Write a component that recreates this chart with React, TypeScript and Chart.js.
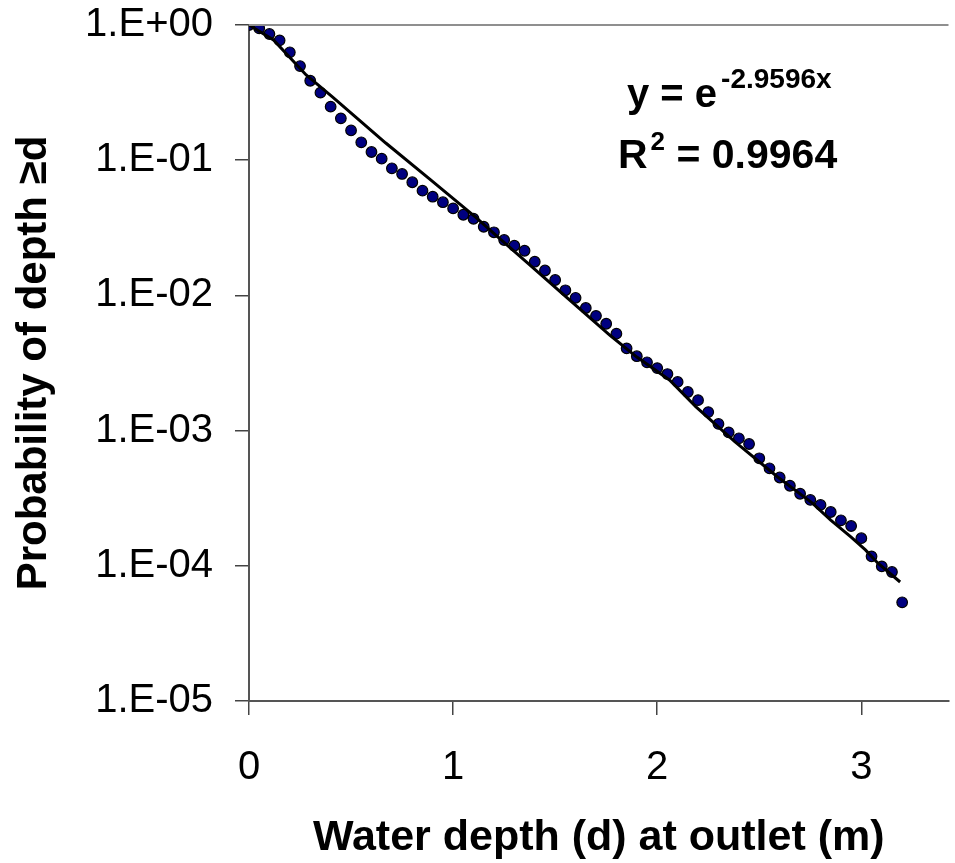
import React, { useEffect, useRef } from "react";
import { Chart, registerables } from "chart.js";

Chart.register(...registerables);

// Observed data: water depth (m) and exceedance probability
const depthX = [
  0, 0.05, 0.1, 0.15, 0.2, 0.25, 0.3, 0.35, 0.4, 0.45, 0.5, 0.55, 0.6, 0.65, 0.7,
  0.75, 0.8, 0.85, 0.9, 0.95, 1.0, 1.05, 1.1, 1.15, 1.2, 1.25, 1.3, 1.35, 1.4, 1.45,
  1.5, 1.55, 1.6, 1.65, 1.7, 1.75, 1.8, 1.85, 1.9, 1.95, 2.0, 2.05, 2.1, 2.15, 2.2,
  2.25, 2.3, 2.35, 2.4, 2.45, 2.5, 2.55, 2.6, 2.65, 2.7, 2.75, 2.8, 2.85, 2.9, 2.95,
  3.0, 3.05, 3.1, 3.15, 3.2,
];
const probability = [
  1.0, 0.945, 0.858, 0.77, 0.628, 0.497, 0.387, 0.316, 0.249, 0.204, 0.166, 0.1356,
  0.115, 0.1026, 0.0871, 0.0791, 0.0687, 0.0595, 0.0537, 0.0489, 0.044, 0.0395,
  0.0369, 0.0322, 0.0293, 0.0257, 0.0233, 0.0214, 0.01775, 0.01528, 0.013, 0.01091,
  0.0096, 0.00807, 0.00706, 0.00617, 0.00521, 0.00406, 0.00355, 0.0032, 0.0029,
  0.00262, 0.00229, 0.00193, 0.00168, 0.00137, 0.00112, 0.000971, 0.000877,
  0.000796, 0.000624, 0.000526, 0.00045, 0.000391, 0.000341, 0.000307, 0.000282,
  0.00025, 0.000217, 0.000197, 0.00016, 0.0001175, 0.0000991, 0.00009, 0.0000537,
];

// Trend line
const fitX = [
  0, 0.12, 0.28, 0.41, 0.54, 0.67, 0.89, 1.11, 1.22, 1.36, 1.57, 1.77, 1.9, 2.06,
  2.19, 2.38, 2.59, 2.76, 2.85, 2.95, 3.02, 3.08, 3.19,
];
const fitY = [
  1, 0.774, 0.427, 0.293, 0.198, 0.134, 0.0715, 0.038, 0.027, 0.01766, 0.00925,
  0.00505, 0.0035, 0.00237, 0.0015, 0.00083, 0.000454, 0.000291, 0.000218,
  0.000163, 0.000131, 0.000105, 0.0000759,
];

const xTickValues = [0, 1, 2, 3];
const xTickLabels = ["0", "1", "2", "3"];
const yTickValues = [1, 0.1, 0.01, 0.001, 0.0001, 0.00001];
const yTickLabels = ["1.E+00", "1.E-01", "1.E-02", "1.E-03", "1.E-04", "1.E-05"];

const xTitle = "Water depth (d) at outlet (m)";
const yTitle = "Probability of depth \u2265d";
const eqLead = "y = e";
const eqExponent = "-2.9596x";
const r2Lead = "R";
const r2Sup = "2";
const r2Rest = " = 0.9964";

const FONT = "'Liberation Sans', Arial, Helvetica, sans-serif";

const overlayPlugin = {
  id: "overlay",
  afterDraw(chart: any) {
    const { ctx, chartArea } = chart;
    ctx.save();
    // plot-area top border
    ctx.strokeStyle = "#8f8f8f";
    ctx.lineWidth = 2;
    ctx.beginPath();
    ctx.moveTo(chartArea.left, chartArea.top);
    ctx.lineTo(chartArea.right, chartArea.top);
    ctx.stroke();

    // equation text
    ctx.fillStyle = "#000";
    ctx.textBaseline = "alphabetic";
    ctx.textAlign = "left";
    const ex = chartArea.left + 378;
    const ey = chartArea.top + 82;
    ctx.font = `bold 40px ${FONT}`;
    ctx.fillText(eqLead, ex, ey);
    const w1 = ctx.measureText(eqLead).width;
    ctx.font = `bold 28px ${FONT}`;
    ctx.fillText(eqExponent, ex + w1 + 4, ey - 19);

    const rx = chartArea.left + 369;
    const ry = chartArea.top + 143;
    ctx.font = `bold 41px ${FONT}`;
    ctx.fillText(r2Lead, rx, ry);
    const w2 = ctx.measureText(r2Lead).width;
    ctx.font = `bold 26px ${FONT}`;
    ctx.fillText(r2Sup, rx + w2 + 3, ry - 18);
    const w3 = ctx.measureText(r2Sup).width;
    ctx.font = `bold 41px ${FONT}`;
    ctx.fillText(r2Rest, rx + w2 + 3 + w3, ry);
    ctx.restore();
  },
};

export default function App() {
  const canvasRef = useRef<HTMLCanvasElement | null>(null);

  useEffect(() => {
    document.body.style.margin = "0";
    const canvas = canvasRef.current;
    if (!canvas) return;
    const scatterData = depthX.map((x, i) => ({ x, y: probability[i] }));
    const lineData = fitX.map((x, i) => ({ x, y: fitY[i] }));

    const chart = new Chart(canvas, {
      type: "scatter",
      data: {
        datasets: [
          {
            type: "line",
            label: "fit",
            data: lineData,
            borderColor: "#000000",
            borderWidth: 3,
            pointRadius: 0,
            tension: 0,
            fill: false,
            order: 0,
          } as any,
          {
            type: "scatter",
            label: "data",
            data: scatterData,
            backgroundColor: "#000080",
            borderColor: "#000000",
            borderWidth: 1.2,
            pointRadius: 5.3,
            order: 1,
          },
        ],
      },
      plugins: [overlayPlugin],
      options: {
        animation: false,
        responsive: false,
        devicePixelRatio: 1,
        layout: { padding: { top: 25, right: 0, left: 0, bottom: 0 } },
        plugins: {
          legend: { display: false },
          tooltip: { enabled: false },
          title: { display: false },
        },
        scales: {
          x: {
            type: "linear",
            min: 0,
            max: 3.427,
            afterBuildTicks: (scale: any) => {
              scale.ticks = xTickValues.map((v) => ({ value: v }));
            },
            afterFit: (scale: any) => {
              scale.height = 162;
              scale.paddingLeft = 0;
              scale.paddingRight = 0;
            },
            ticks: {
              callback: (v: any) => {
                const i = xTickValues.indexOf(Number(v));
                return i >= 0 ? xTickLabels[i] : "";
              },
              color: "#000",
              font: { family: FONT, size: 40 },
              padding: 29,
              maxRotation: 0,
              autoSkip: false,
            },
            grid: {
              drawOnChartArea: false,
              drawTicks: true,
              tickLength: 14,
              color: "#444",
              lineWidth: 1.5,
            },
            border: { display: true, color: "#555", width: 2 },
            title: {
              display: true,
              text: xTitle,
              color: "#000",
              font: { family: FONT, size: 43, weight: "bold", lineHeight: 1 },
              padding: { top: 0, bottom: 3 },
            },
          },
          y: {
            type: "logarithmic",
            min: 0.00001,
            max: 1,
            afterBuildTicks: (scale: any) => {
              scale.ticks = yTickValues.map((v) => ({ value: v }));
            },
            afterFit: (scale: any) => {
              scale.width = 249;
              scale.paddingTop = 0;
              scale.paddingBottom = 0;
            },
            ticks: {
              callback: (v: any) => {
                const i = yTickValues.findIndex(
                  (t) => Math.abs(Math.log10(t) - Math.log10(Number(v))) < 1e-6
                );
                return i >= 0 ? yTickLabels[i] : "";
              },
              color: "#000",
              font: { family: FONT, size: 40 },
              padding: 22,
              autoSkip: false,
            },
            grid: {
              drawOnChartArea: false,
              drawTicks: true,
              tickLength: 14,
              color: "#444",
              lineWidth: 1.5,
            },
            border: { display: true, color: "#555", width: 2 },
            title: {
              display: true,
              text: yTitle,
              color: "#000",
              font: { family: FONT, size: 42, weight: "bold", lineHeight: 1 },
              padding: { top: 13, bottom: 0 },
            },
          },
        },
      },
    });
    return () => chart.destroy();
  }, []);

  return (
    <div style={{ position: "absolute", left: 0, top: 0, width: 955, height: 863, background: "#fff" }}>
      <canvas ref={canvasRef} width={955} height={863} style={{ display: "block" }} />
    </div>
  );
}
